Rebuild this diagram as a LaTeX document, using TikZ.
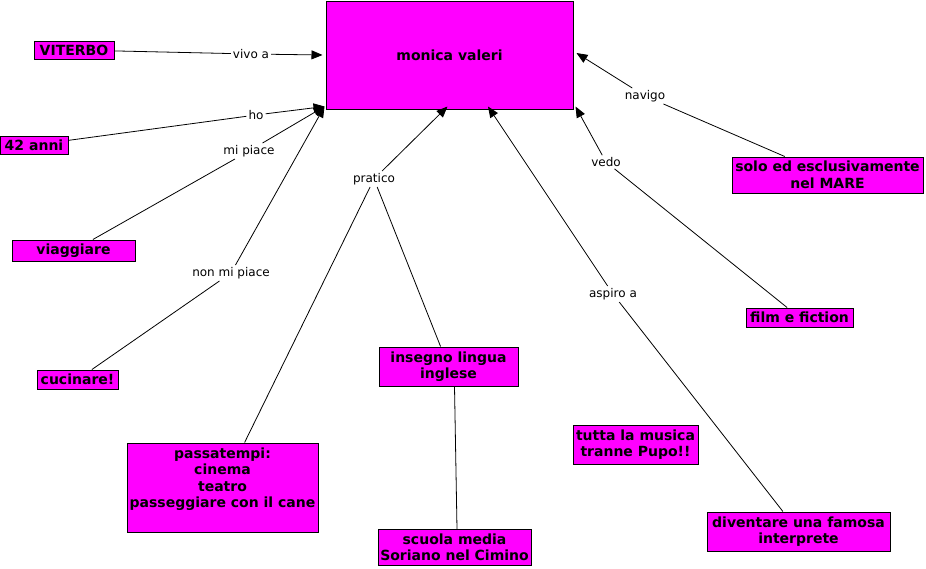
\documentclass[tikz,border=0pt]{standalone}
\usepackage{fontspec}
\setmainfont{DejaVu Sans}
\usetikzlibrary{arrows.meta}
\definecolor{mag}{HTML}{FF00FF}
\tikzset{
  concept/.style={draw=black, line width=1pt, fill=mag, inner sep=0pt, align=center,
    font=\fontsize{14}{16.5}\selectfont\bfseries},
  lbl/.style={inner sep=2pt, font=\fontsize{12}{14}\selectfont},
  link/.style={draw=black, line width=0.8pt},
  arr/.style={link, -{Triangle[length=11pt,width=9pt]}}
}
\begin{document}
\begin{tikzpicture}[x=1pt,y=-1pt]
\useasboundingbox (0,0) rectangle (926,568);
% concepts
\node[concept, minimum width=247pt, minimum height=108pt] (monica) at (449.5,55) {monica valeri};
\node[concept, minimum width=80pt, minimum height=18pt] (viterbo) at (74,50) {VITERBO};
\node[concept, minimum width=68pt, minimum height=18pt] (anni) at (34,145) {42 anni};
\node[concept, minimum width=123pt, minimum height=21pt] (viaggiare) at (73.5,250.5) {viaggiare};
\node[concept, minimum width=81pt, minimum height=19pt] (cucinare) at (77.5,379.5) {cucinare!};
\node[concept, minimum width=191pt, minimum height=89pt, text depth=20pt] (pass) at (222.5,487.5) {passatempi:\\cinema\\teatro\\passeggiare con il cane};
\node[concept, minimum width=139pt, minimum height=39pt] (insegno) at (448.5,366.5) {insegno lingua\\inglese};
\node[concept, minimum width=153pt, minimum height=36pt] (scuola) at (454.5,547.5) {scuola media\\Soriano nel Cimino};
\node[concept, minimum width=125pt, minimum height=39pt] (tutta) at (635.5,444.5) {tutta la musica\\tranne Pupo!!};
\node[concept, minimum width=183pt, minimum height=39pt] (diventare) at (798.5,531.5) {diventare una famosa\\interprete};
\node[concept, minimum width=107pt, minimum height=19pt] (film) at (799.5,317.5) {film e fiction};
\node[concept, minimum width=191pt, minimum height=36pt] (solo) at (827.5,175) {solo ed esclusivamente\\nel MARE};
% linking phrases
\node[lbl] (vivo) at (251,54) {vivo a};
\node[lbl] (ho) at (256,115) {ho};
\node[lbl] (mipiace) at (249,151) {mi piace};
\node[lbl] (nonmipiace) at (231,273) {non mi piace};
\node[lbl] (pratico) at (374,179) {pratico};
\node[lbl] (aspiro) at (613,294) {aspiro a};
\node[lbl] (vedo) at (606,162) {vedo};
\node[lbl] (navigo) at (645,96) {navigo};
% arrow tips
\coordinate (tW) at ([xshift=-3pt]monica.west);
\coordinate (tSW) at ([shift={(-1pt,3pt)}]monica.south west);
\coordinate (tS) at ([shift={(-2pt,3pt)}]monica.south);
\coordinate (tS2) at ([shift={(38.5pt,3pt)}]monica.south);
\coordinate (tSE) at ([shift={(2pt,3pt)}]monica.south east);
\coordinate (tE) at ([shift={(3pt,2pt)}]monica.east);
% connectors
\draw[link] (viterbo) -- (vivo);
\draw[arr] (vivo) -- (tW);
\draw[link] (anni) -- (ho);
\draw[arr] (ho) -- (tSW);
\draw[link] (viaggiare) -- (mipiace);
\draw[arr] (mipiace) -- (tSW);
\draw[link] (cucinare) -- (nonmipiace);
\draw[arr] (nonmipiace) -- (tSW);
\draw[link] (pass) -- (pratico);
\draw[link] (pratico) -- (insegno);
\draw[arr] (pratico) -- (tS);
\draw[link] ([xshift=6pt]insegno.south) -- ([xshift=2.5pt]scuola.north);
\draw[link] (diventare) -- (aspiro);
\draw[arr] (aspiro) -- (tS2);
\draw[link] (film) -- (vedo);
\draw[arr] (vedo) -- (tSE);
\draw[link] (solo) -- (navigo);
\draw[arr] (navigo) -- (tE);
\end{tikzpicture}
\end{document}
